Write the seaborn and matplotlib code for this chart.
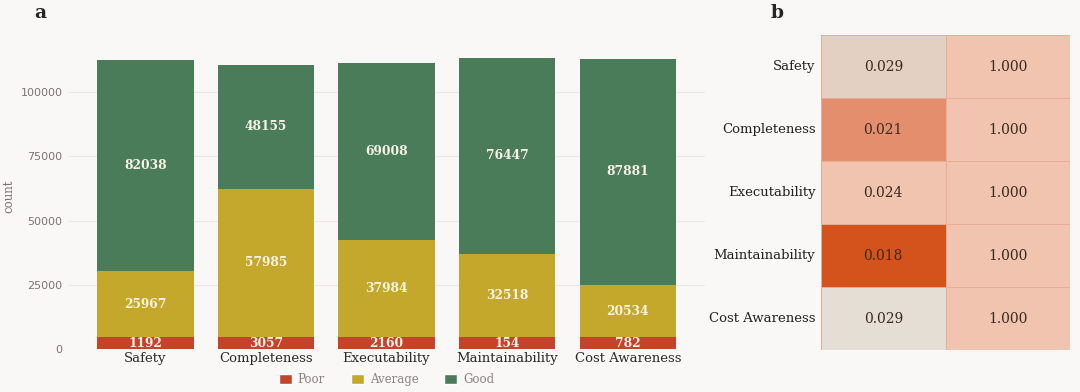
import numpy as np
import seaborn as sns
import matplotlib.pyplot as plt
from matplotlib.colors import LinearSegmentedColormap
from matplotlib.patches import Patch

# data
dimensions = ["Safety", "Completeness", "Executability", "Maintainability", "Cost Awareness"]
levels = ["Poor", "Average", "Good"]
poor = np.array([1192, 3057, 2160, 154, 782])
average = np.array([25967, 57985, 37984, 32518, 20534])
good = np.array([82038, 48155, 69008, 76447, 87881])

p_values = np.array([[0.029, 1.000],
                     [0.021, 1.000],
                     [0.024, 1.000],
                     [0.018, 1.000],
                     [0.029, 1.000]])
# colour level of each heatmap cell (0 = grey, 1 = deep orange)
shade = np.array([[0.25, 0.5],
                  [0.75, 0.5],
                  [0.5, 0.5],
                  [1.0, 0.5],
                  [0.0, 0.5]])

BG = "#f9f8f6"
level_colors = ["#c4432a", "#c4a82c", "#4a7c5a"]
MIN_SEG = 4500  # small "Poor" segments are drawn with a minimum height

sns.set_theme(style="whitegrid")
plt.rcParams["font.family"] = ["DejaVu Serif"]

fig = plt.figure(figsize=(10.8, 3.92), dpi=100, facecolor=BG)

# ---- panel a: stacked bars
ax = fig.add_axes([0.063, 0.1097, 0.5898, 0.7806])
ax.set_facecolor(BG)

poor_h = np.maximum(poor, MIN_SEG)
heights = [poor_h, average, good]
bottoms = [np.zeros(len(poor)), poor_h, poor_h + average]
shown = [poor, average, good]

for h, b, v, c in zip(heights, bottoms, shown, level_colors):
    sns.barplot(x=dimensions, y=h, bottom=b, color=c, saturation=1, width=0.8,
                linewidth=0, ax=ax)
    ax.bar_label(ax.containers[-1], labels=[str(x) for x in v], label_type="center",
                 color="#f7f2e4", fontsize=8.8, fontweight="bold")

ax.set_xlim(-0.64, 4.64)
ax.set_yticks([0, 25000, 50000, 75000, 100000])
ax.grid(axis="y", color="#ebe9e5", linewidth=0.8)
ax.grid(axis="x", visible=False)
for s in ax.spines.values():
    s.set_visible(False)
ax.tick_params(axis="both", length=0, pad=3)
ax.tick_params(axis="x", labelsize=9.5, labelcolor="#2a2a2a", pad=2)
ax.tick_params(axis="y", labelsize=8, labelcolor="#7a7472", pad=4)
for lab in ax.get_yticklabels():
    lab.set_fontfamily("DejaVu Sans")
ax.set_xlabel("")
ax.set_ylabel("count", fontsize=8.5, color="#7a7472", labelpad=4)

handles = [Patch(facecolor=c, label=l) for c, l in zip(level_colors, levels)]
leg = ax.legend(handles=handles, loc="center", bbox_to_anchor=(0.5, -0.1), ncol=3,
                frameon=False, fontsize=8.5, handlelength=1.1, handleheight=0.9,
                columnspacing=2.2, handletextpad=0.5)
for t in leg.get_texts():
    t.set_color("#8a8482")

# ---- panel b: heatmap
hax = fig.add_axes([0.7602, 0.1071, 0.2306, 0.8036])
cmap = LinearSegmentedColormap.from_list(
    "warm", ["#e4ded5", "#e3d0c2", "#f0c4b0", "#e48f6e", "#d4521b"])
sns.heatmap(shade, ax=hax, cmap=cmap, vmin=0, vmax=1, cbar=False,
            annot=p_values, fmt=".3f", annot_kws={"size": 10, "color": "#3a2a20"},
            linewidths=0.6, linecolor="#e6ae98", xticklabels=False, yticklabels=dimensions)
hax.tick_params(axis="y", length=0, labelsize=9.5, labelcolor="#222222", rotation=0, pad=4)

fig.text(0.037, 0.967, "a", fontsize=13.5, fontweight="bold", va="center", ha="center")
fig.text(0.72, 0.967, "b", fontsize=13.5, fontweight="bold", va="center", ha="center")

fig.savefig("out.png", dpi=100, facecolor=BG)
